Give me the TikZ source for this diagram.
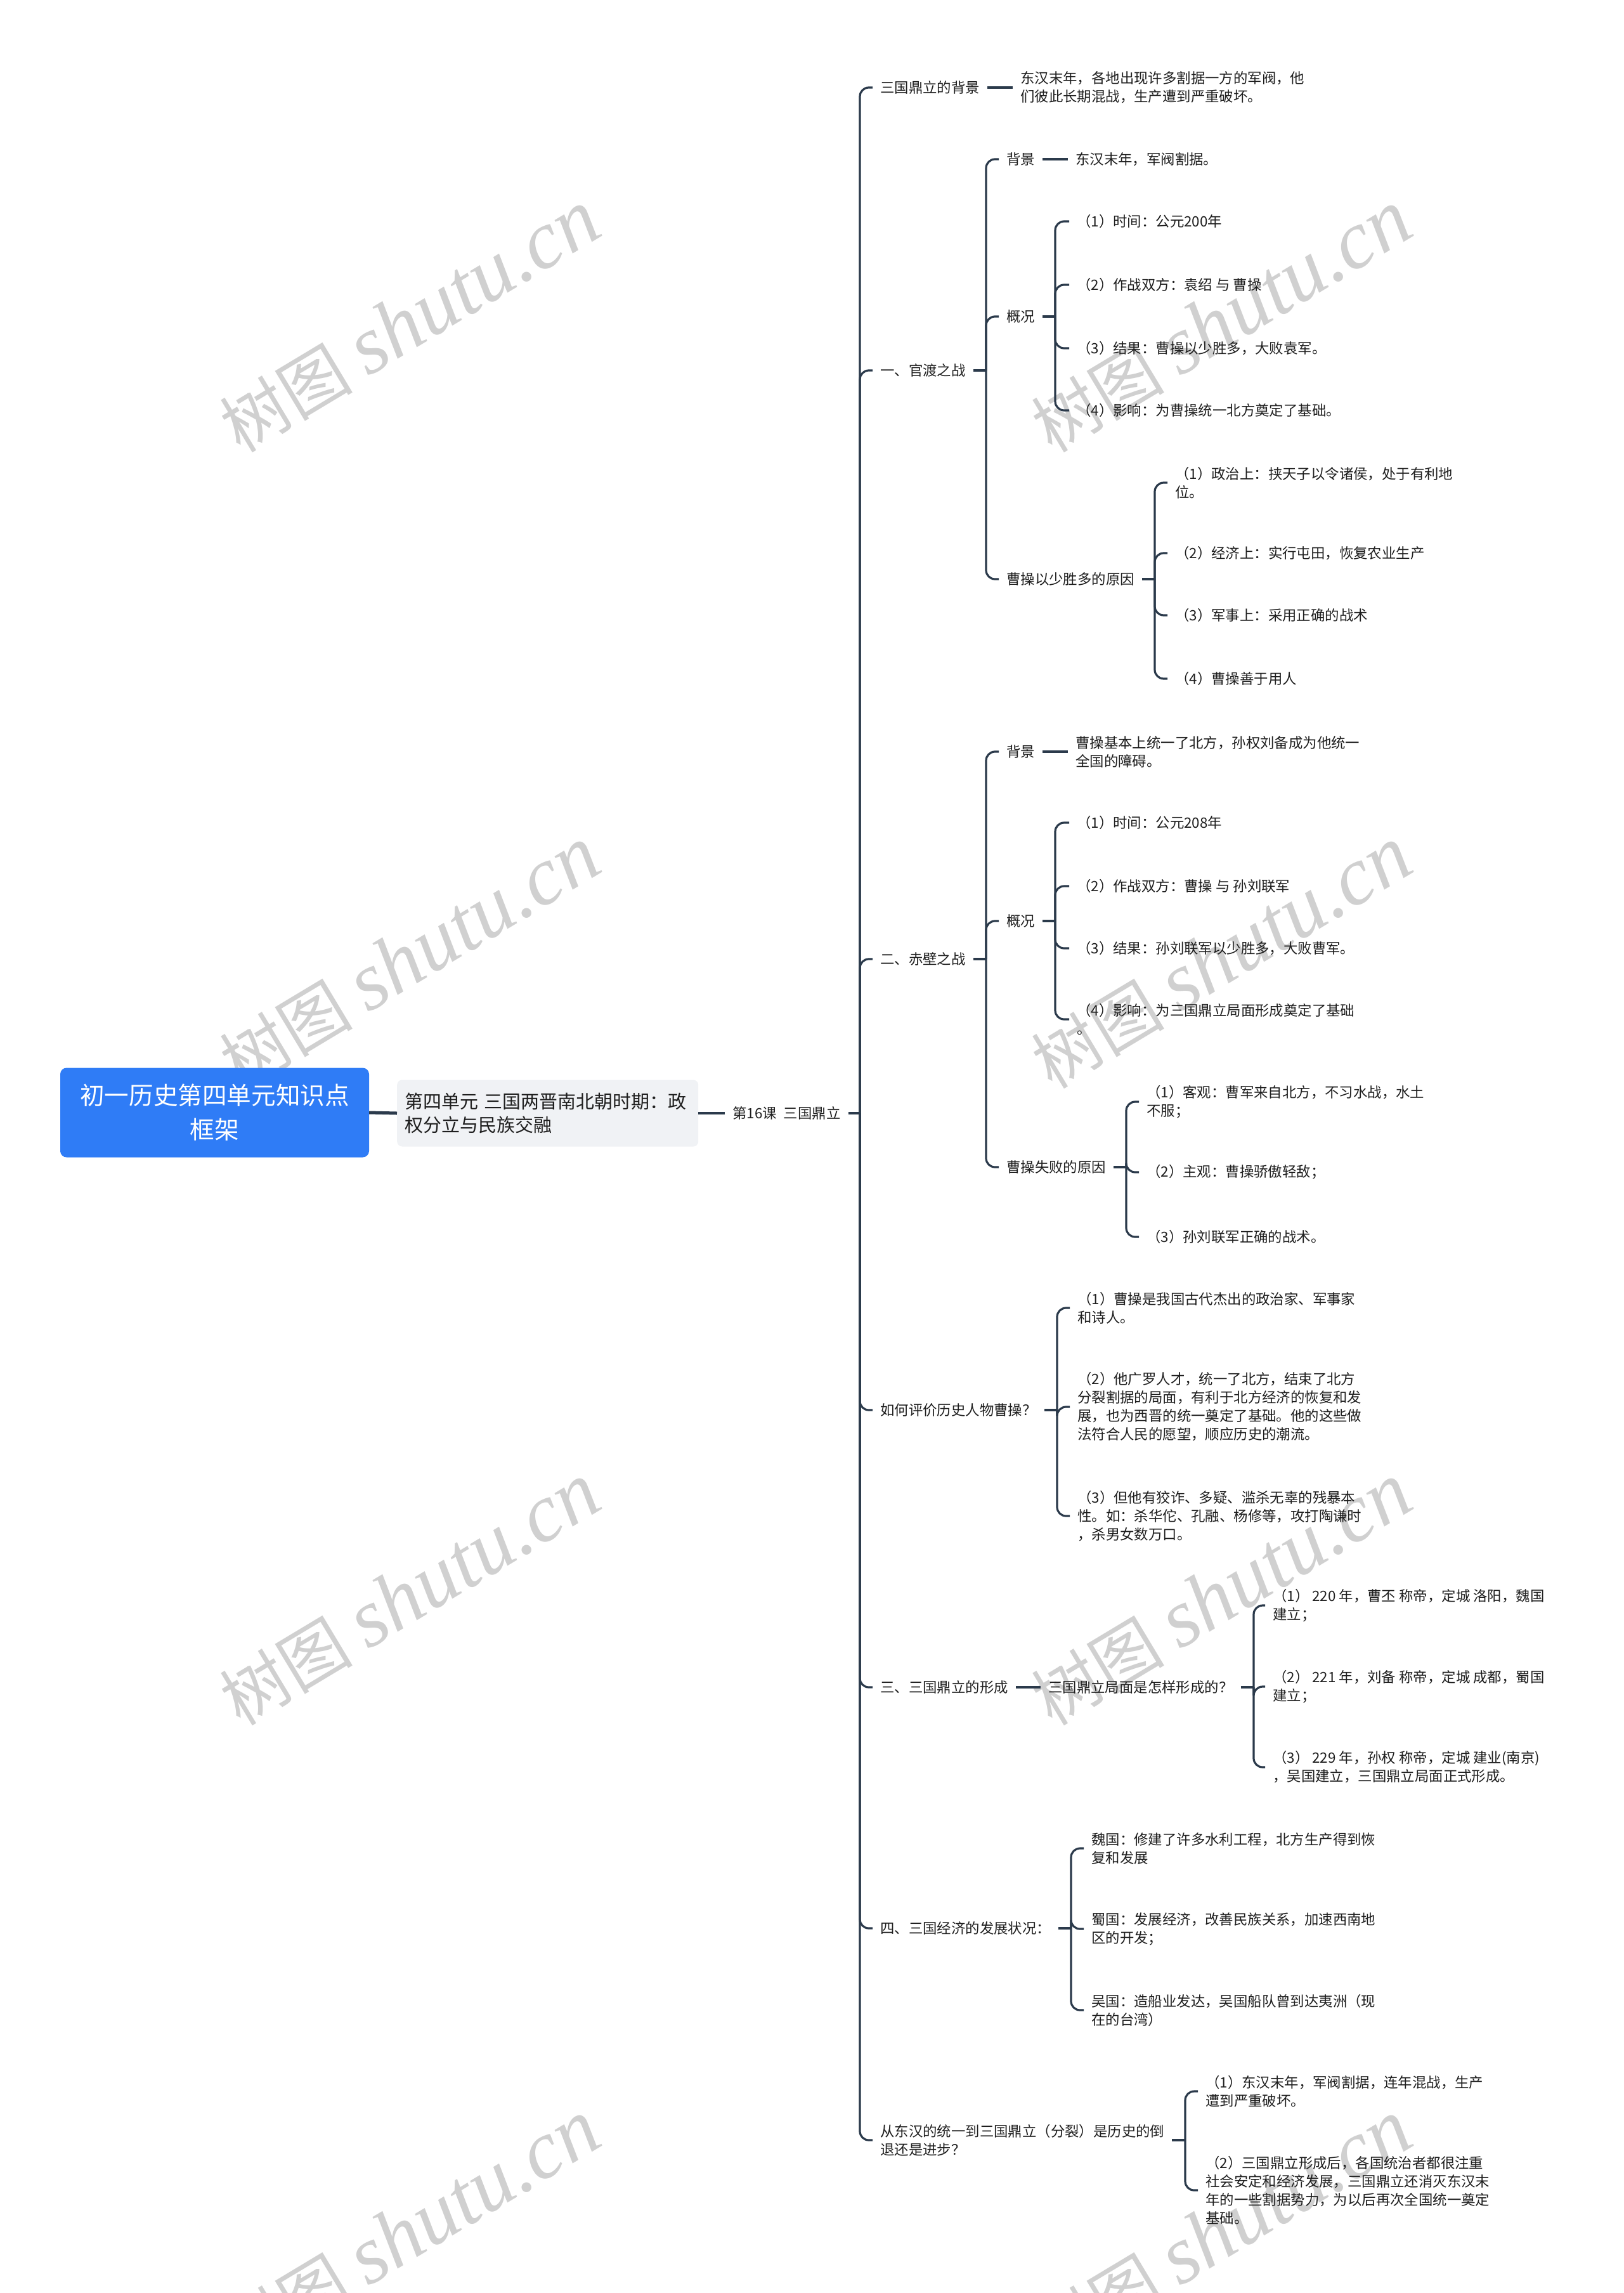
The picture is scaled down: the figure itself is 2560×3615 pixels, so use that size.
\documentclass[tikz,border=0pt]{standalone}
\usepackage{fontspec}
\setmainfont{Noto Sans CJK SC}
\newfontfamily\wmcjk{Noto Sans CJK SC}
\newfontfamily\wmlat{Liberation Serif}
\definecolor{linec}{HTML}{2B3A4B}
\definecolor{rootblue}{HTML}{2F7CF6}
\definecolor{lonegray}{HTML}{F0F2F5}
\definecolor{txtc}{HTML}{1E1E1E}
\definecolor{wmgray}{HTML}{D0D0D0}
\tikzset{
  conn/.style={draw=linec, line width=3.2pt, rounded corners=14pt},
  txt/.style={anchor=west, inner xsep=12pt, inner ysep=3pt, align=left, text=txtc,
    font=\fontsize{22.4}{29}\selectfont},
  rootbox/.style={fill=rootblue, rounded corners=10pt, minimum width=487pt,
    minimum height=141pt, text=white, align=center, inner sep=0pt,
    font=\fontsize{38.6}{54}\selectfont},
  lonebox/.style={anchor=west, fill=lonegray, rounded corners=8pt, text width=451pt,
    inner xsep=12pt, minimum height=105pt, align=left, text=txtc,
    font=\fontsize{29}{37}\selectfont},
  wm/.style={text=wmgray, inner sep=0pt}
}
\begin{document}
\begin{tikzpicture}[x=1pt,y=-1pt]
\useasboundingbox (0,0) rectangle (2560,3615);
\clip (0,0) rectangle (2560,3615);
\fill[white] (0,0) rectangle (2560,3615);
% watermarks
\foreach \wx in {646,1926} {
  \foreach \wy in {507,1510,2514,3518} {
    \node[wm, rotate=31] (wm-\wx-\wy) at (\wx,\wy)
      {{\wmcjk\fontsize{105}{110}\selectfont 树图}\hspace{25pt}{\wmlat\itshape\fontsize{130}{130}\selectfont shutu.cn}};
  }
}
% root and level 1
\node[rootbox] (root) at (338.5,1754) {初一历史第四单元知识点\\框架};
\node[lonebox] (l1) at (626,1755) {第四单元 三国两晋南北朝时期：政\\权分立与民族交融};
\draw[conn, line width=5pt] (root.east) -- (l1.west);
\node[txt] (t16) at (1143,1755) {第16课\hspace{11pt}三国鼎立};
\draw[conn] (l1.east) -- (t16.west);
\coordinate (v0) at (1356,1755);
\draw[conn] (t16.east) -- (v0);

% level 3
\node[txt] (a1) at (1376,138) {三国鼎立的背景};
\node[txt] (a2) at (1376,584) {一、官渡之战};
\node[txt] (a3) at (1376,1512) {二、赤壁之战};
\node[txt] (a4) at (1376,2223) {如何评价历史人物曹操？};
\node[txt] (a5) at (1376,2660) {三、三国鼎立的形成};
\node[txt] (a6) at (1376,3040) {四、三国经济的发展状况：};
\node[txt] (a7) at (1376,3374) {从东汉的统一到三国鼎立（分裂）是历史的倒\\退还是进步？};
\foreach \c in {a1,a2,a3,a4,a5,a6,a7} \draw[conn] (v0) |- (\c.west);

% a1
\node[txt] (a1x) at (1597,138) {东汉末年，各地出现许多割据一方的军阀，他\\们彼此长期混战，生产遭到严重破坏。};
\draw[conn] (a1.east) -- (a1x.west);

% a2 官渡之战
\coordinate (v2) at (1555,584);
\draw[conn] (a2.east) -- (v2);
\node[txt] (a2a) at (1575,251) {背景};
\node[txt] (a2b) at (1575,499) {概况};
\node[txt] (a2c) at (1575,913) {曹操以少胜多的原因};
\foreach \c in {a2a,a2b,a2c} \draw[conn] (v2) |- (\c.west);
\node[txt] (a2ax) at (1684,251) {东汉末年，军阀割据。};
\draw[conn] (a2a.east) -- (a2ax.west);
\coordinate (v2b) at (1664,499);
\draw[conn] (a2b.east) -- (v2b);
\node[txt] (a2b1) at (1686,349) {（1）时间：公元200年};
\node[txt] (a2b2) at (1686,449) {（2）作战双方：袁绍 与 曹操};
\node[txt] (a2b3) at (1686,549) {（3）结果：曹操以少胜多，大败袁军。};
\node[txt] (a2b4) at (1686,647) {（4）影响：为曹操统一北方奠定了基础。};
\foreach \c in {a2b1,a2b2,a2b3,a2b4} \draw[conn] (v2b) |- (\c.west);
\coordinate (v2c) at (1821,913);
\draw[conn] (a2c.east) -- (v2c);
\node[txt] (a2c1) at (1841,761) {（1）政治上：挟天子以令诸侯，处于有利地\\位。};
\node[txt] (a2c2) at (1841,872) {（2）经济上：实行屯田，恢复农业生产};
\node[txt] (a2c3) at (1841,970) {（3）军事上：采用正确的战术};
\node[txt] (a2c4) at (1841,1070) {（4）曹操善于用人};
\foreach \c in {a2c1,a2c2,a2c3,a2c4} \draw[conn] (v2c) |- (\c.west);

% a3 赤壁之战
\coordinate (v3) at (1555,1512);
\draw[conn] (a3.east) -- (v3);
\node[txt] (a3a) at (1575,1185) {背景};
\node[txt] (a3b) at (1575,1452) {概况};
\node[txt] (a3c) at (1575,1840) {曹操失败的原因};
\foreach \c in {a3a,a3b,a3c} \draw[conn] (v3) |- (\c.west);
\node[txt] (a3ax) at (1684,1185) {曹操基本上统一了北方，孙权刘备成为他统一\\全国的障碍。};
\draw[conn] (a3a.east) -- (a3ax.west);
\coordinate (v3b) at (1664,1452);
\draw[conn] (a3b.east) -- (v3b);
\node[txt] (a3b1) at (1686,1297) {（1）时间：公元208年};
\node[txt] (a3b2) at (1686,1397) {（2）作战双方：曹操 与 孙刘联军};
\node[txt] (a3b3) at (1686,1495) {（3）结果：孙刘联军以少胜多，大败曹军。};
\node[txt] (a3b4) at (1686,1607) {（4）影响：为三国鼎立局面形成奠定了基础\\。};
\foreach \c in {a3b1,a3b2,a3b3,a3b4} \draw[conn] (v3b) |- (\c.west);
\coordinate (v3c) at (1776,1840);
\draw[conn] (a3c.east) -- (v3c);
\node[txt] (a3c1) at (1796,1737) {（1）客观：曹军来自北方，不习水战，水土\\不服；};
\node[txt] (a3c2) at (1796,1848) {（2）主观：曹操骄傲轻敌；};
\node[txt] (a3c3) at (1796,1950) {（3）孙刘联军正确的战术。};
\foreach \c in {a3c1,a3c2,a3c3} \draw[conn] (v3c) |- (\c.west);

% a4 评价曹操
\coordinate (v4) at (1667,2223);
\draw[conn] (a4.east) -- (v4);
\node[txt] (a4a) at (1687,2062) {（1）曹操是我国古代杰出的政治家、军事家\\和诗人。};
\node[txt] (a4b) at (1687,2218) {（2）他广罗人才，统一了北方，结束了北方\\分裂割据的局面，有利于北方经济的恢复和发\\展，也为西晋的统一奠定了基础。他的这些做\\法符合人民的愿望，顺应历史的潮流。};
\node[txt] (a4c) at (1687,2390) {（3）但他有狡诈、多疑、滥杀无辜的残暴本\\性。如：杀华佗、孔融、杨修等，攻打陶谦时\\，杀男女数万口。};
\foreach \c in {a4a,a4b,a4c} \draw[conn] (v4) |- (\c.west);

% a5 三国鼎立的形成
\node[txt] (a5x) at (1641,2660) {三国鼎立局面是怎样形成的？};
\draw[conn] (a5.east) -- (a5x.west);
\coordinate (v5) at (1977,2660);
\draw[conn] (a5x.east) -- (v5);
\node[txt] (a5a) at (1995,2531) {（1） 220 年，曹丕 称帝，定城 洛阳，魏国\\建立；};
\node[txt] (a5b) at (1995,2659) {（2） 221 年，刘备 称帝，定城 成都，蜀国\\建立；};
\node[txt] (a5c) at (1995,2786) {（3） 229 年，孙权 称帝，定城 建业(南京)\\，吴国建立，三国鼎立局面正式形成。};
\foreach \c in {a5a,a5b,a5c} \draw[conn] (v5) |- (\c.west);

% a6 三国经济
\coordinate (v6) at (1689,3040);
\draw[conn] (a6.east) -- (v6);
\node[txt] (a6a) at (1709,2914) {魏国：修建了许多水利工程，北方生产得到恢\\复和发展};
\node[txt] (a6b) at (1709,3041) {蜀国：发展经济，改善民族关系，加速西南地\\区的开发；};
\node[txt] (a6c) at (1709,3169) {吴国：造船业发达，吴国船队曾到达夷洲（现\\在的台湾）};
\foreach \c in {a6a,a6b,a6c} \draw[conn] (v6) |- (\c.west);

% a7 倒退还是进步
\coordinate (v7) at (1869,3374);
\draw[conn] (a7.east) -- (v7);
\node[txt] (a7a) at (1889,3297) {（1）东汉末年，军阀割据，连年混战，生产\\遭到严重破坏。};
\node[txt] (a7b) at (1889,3453) {（2）三国鼎立形成后，各国统治者都很注重\\社会安定和经济发展，三国鼎立还消灭东汉末\\年的一些割据势力，为以后再次全国统一奠定\\基础。};
\foreach \c in {a7a,a7b} \draw[conn] (v7) |- (\c.west);
\end{tikzpicture}
\end{document}
